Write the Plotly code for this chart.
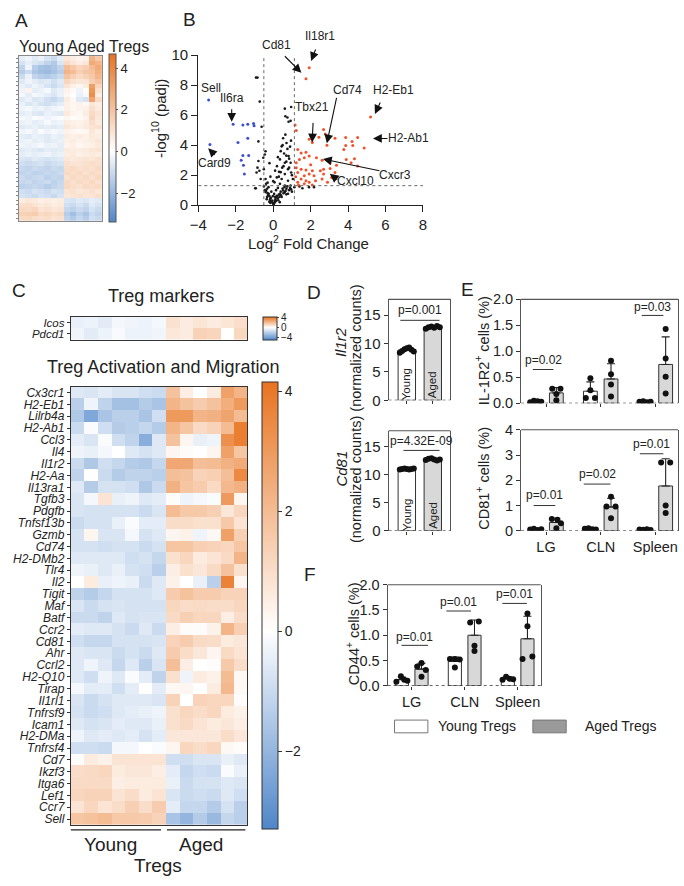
import numpy as np
import plotly.graph_objects as go

W, H = 684, 886
FONT = "Liberation Sans, Arial, Helvetica, sans-serif"
INK = "#222222"


def PX(x):
    return x / W


def PY(y):
    return 1 - y / H


# ============================ DATA ============================
# Panel A: DEG heatmap (z-scores), columns = 7 young + 6 aged Treg samples
heat_a_rows = [
    [-0.5, -0.3, -0.6, -0.4, -0.8, -1.0, -0.5, 0.8, 0.6, 0.4, 0.5, 2.5, 1.8],
    [-0.8, -0.5, -0.7, -0.9, -1.2, -1.5, -0.7, 1.2, 0.9, 0.6, 0.8, 2.8, 2.5],
    [-1.2, -0.3, -1.4, -1.7, -1.8, -1.6, -1.2, 2.2, 1.8, 1.4, 1.6, 2.2, 2.8],
    [-1.4, -1.0, -1.6, -1.8, -1.9, -1.7, -1.4, 2.5, 2.2, 1.6, 1.9, 2.0, 2.6],
    [-1.0, -0.4, -1.2, -1.4, -1.5, -1.3, -1.0, 2.0, 1.6, 1.2, 1.5, 1.8, 2.4],
    [-0.6, -0.3, -0.5, -0.7, -0.6, -0.9, -0.6, 1.4, 1.0, 0.8, 0.9, 1.6, 2.0],
    [-0.4, -0.6, -0.3, -0.5, -0.8, -1.0, -0.7, 0.9, 0.5, 0.3, 0.6, 3.2, 1.4],
    [-0.3, 0.4, -0.5, -0.4, -0.2, -0.6, -0.4, 0.4, 0.2, -0.3, 0.1, 3.5, 1.0],
    [-0.2, -0.5, -0.2, -0.3, -0.5, -0.7, -0.4, 0.3, 0.0, -0.4, -0.2, 3.8, 0.6],
    [-0.6, -0.4, -0.7, -0.6, -0.9, -1.1, -0.8, 0.6, 0.2, -0.6, -0.8, 3.0, 1.2],
    [-0.4, -0.7, -0.5, -0.8, -0.9, -0.7, -0.5, 0.5, 0.3, 0.4, 0.2, 0.8, 0.6],
    [-0.3, -0.2, -0.4, -0.3, -0.5, -0.3, -0.2, 0.5, 0.3, 0.4, 0.5, 1.0, 0.7],
    [-0.5, -0.4, -0.6, -0.7, -0.4, -0.5, -0.6, 0.7, 0.4, 0.3, 0.6, 1.2, 0.9],
    [-0.2, -0.3, -0.1, -0.2, -0.3, -0.2, -0.1, 0.3, 0.1, 0.2, 0.4, 1.4, 0.8],
    [-0.4, -0.3, -0.5, -0.4, -0.2, -0.4, -0.3, 0.6, 0.5, 0.4, 0.6, 1.1, 0.7],
    [-0.6, -0.5, -0.4, -0.6, -0.5, -0.6, -0.5, 0.8, 0.6, 0.5, 0.7, 0.9, 1.0],
    [-0.3, -0.2, -0.4, -0.1, -0.3, -0.2, -0.3, 0.4, 0.3, 0.2, 0.3, 0.8, 0.5],
    [-0.5, -0.6, -0.4, -0.5, -0.6, -0.4, -0.5, 0.6, 0.5, 0.6, 0.5, 0.7, 0.6],
    [-0.4, -0.3, -0.5, -0.4, -0.6, -0.5, -0.4, 0.5, 0.6, 0.4, 0.5, 0.6, 0.8],
    [-0.3, -0.4, -0.3, -0.2, -0.4, -0.3, -0.5, 0.4, 0.5, 0.3, 0.4, 0.5, 0.7],
    [-0.6, -0.5, -0.6, -0.7, -0.5, -0.6, -0.5, 0.7, 0.6, 0.6, 0.7, 0.8, 0.9],
    [-0.5, -0.4, -0.5, -0.4, -0.3, -0.5, -0.4, 0.6, 0.7, 0.5, 0.6, 0.7, 0.6],
    [-0.7, -0.8, -0.6, -0.7, -0.8, -0.7, -0.6, 0.8, 0.7, 0.8, 0.9, 0.8, 1.0],
    [-0.9, -1.0, -0.9, -0.8, -1.0, -0.9, -0.8, 1.0, 0.9, 0.9, 1.0, 1.1, 1.0],
    [-1.1, -1.2, -1.0, -1.1, -1.2, -1.0, -1.1, 1.1, 1.2, 1.0, 1.1, 1.0, 1.2],
    [-1.2, -1.1, -1.3, -1.2, -1.1, -1.2, -1.0, 1.2, 1.1, 1.2, 1.0, 1.2, 1.1],
    [-1.0, -1.2, -1.1, -1.0, -1.3, -1.1, -1.2, 1.0, 1.2, 1.1, 1.2, 1.0, 1.3],
    [-1.1, -1.0, -1.2, -1.1, -1.0, -1.3, -1.1, 1.2, 1.0, 1.2, 1.1, 1.3, 1.0],
    [-1.3, -1.2, -1.1, -1.2, -1.4, -1.2, -1.0, 1.3, 1.1, 1.0, 1.2, 1.1, 1.2],
    [-0.9, -1.0, -0.8, -0.9, -1.0, -0.8, -0.9, 0.9, 1.0, 0.8, 0.9, 1.0, 0.8],
    [-0.8, -0.9, -1.0, -0.8, -0.9, -1.1, -0.8, 0.8, 0.9, 1.0, 0.8, 0.9, 1.1],
    [0.6, 0.8, 0.7, 0.5, 0.6, 0.5, 0.6, -0.7, -0.8, -0.6, -0.7, -0.5, -0.6],
    [1.0, 1.1, 0.9, 0.7, 0.8, 0.6, 0.7, -0.9, -1.0, -0.8, -1.0, -0.6, -0.8],
    [1.3, 1.2, 1.4, 0.9, 1.0, 0.8, 0.9, -1.1, -1.3, -1.0, -1.2, -0.8, -1.0],
    [1.5, 1.6, 1.7, 1.2, 1.3, 1.1, 1.2, -1.4, -1.8, -1.3, -1.6, -1.0, -1.2],
    [1.2, 1.3, 1.1, 1.0, 1.1, 0.9, 1.0, -1.2, -1.5, -1.1, -1.4, -0.9, -1.0],
]

# Panel B: volcano plot
down_lfc = [-3.45, -3.38, -2.14, -1.62, -1.36, -1.05, -1.02, -1.88, -1.36, -1.62, -1.31, -1.71, -1.59, -1.54]
down_padj = [7.0, 4.05, 5.4, 5.34, 5.4, 5.44, 5.29, 4.18, 4.46, 3.31, 3.31, 3.0, 2.66, 2.07]
up_lfc = [1.75, 1.92, 5.2, 1.17, 1.23, 2.69, 2.78, 2.09, 1.92, 2.87, 2.44, 3.30, 3.87, 4.51, 4.21,
          3.87, 4.25, 4.86, 3.77, 1.31, 1.49, 1.75, 1.92, 1.66, 1.40, 1.23, 2.31, 2.61, 3.04, 3.38,
          3.90, 4.16, 4.34, 4.51, 3.04, 2.69, 2.52, 2.09, 1.75, 1.49, 1.23, 1.31, 1.66, 1.92, 2.18,
          2.69, 3.12, 3.30, 2.90, 1.49, 1.75, 1.92, 1.31, 1.66, 2.09, 2.26, 2.61, 1.20, 1.35, 2.00]
up_padj = [8.43, 9.15, 5.88, 5.34, 4.97, 5.05, 4.75, 4.18, 4.40, 4.00, 4.53, 4.46, 4.51, 4.51, 4.25,
           3.97, 3.97, 3.81, 3.71, 3.71, 3.48, 3.53, 3.27, 3.16, 3.05, 2.83, 3.16, 3.00, 2.83, 2.66,
           3.05, 2.83, 3.09, 2.61, 2.44, 2.40, 2.29, 2.29, 2.35, 2.40, 2.50, 2.18, 1.96, 2.07, 1.96,
           2.07, 1.85, 2.18, 1.52, 1.74, 1.63, 1.52, 1.52, 1.42, 1.35, 1.63, 1.74, 1.90, 1.35, 2.70]
ns_lfc = [-0.92, -0.84, -0.72, -0.62, -0.79, -0.41, -0.45, -0.53, -0.79, -0.84, -0.89, -0.93, -0.67,
          -0.50, -0.41, -0.38, 0.62, 0.65, 0.93, 0.96, 0.76, 0.82, 0.53, 0.71, 0.45, 0.76, 0.58, 0.82,
          0.36, 0.62, 0.93, 0.48, 0.79, 0.31, 0.62, 0.96, 0.19, 0.45, 0.79, 1.05, 0.07, 0.36, 0.62,
          0.93, -0.33, -0.41, -0.24, -0.33, -0.15, -0.10, -0.21, -0.04, 0.19, 0.36, 0.53, 0.71, 0.96,
          0.79, 0.45, 0.27, 0.10, 0.62, 1.13, -0.96, 1.56, 1.91, 2.18, 1.40, -0.74,
          -0.50, -0.45, -0.38, -0.30, -0.28, -0.20, -0.18, -0.12, -0.06, 0.00, 0.02, 0.05, 0.08, 0.12,
          0.15, 0.20, 0.24, 0.30, 0.33, 0.40, 0.42, 0.50, 0.55, 0.60, 0.66, 0.70, 0.75, 0.85, 0.90,
          1.00, -0.25, -0.10, 0.05, 0.15, 0.25, -0.35, 0.35, -0.02, 0.10, -0.15,
          -0.30, -0.15, 0.00, 0.10, 0.20, 0.30, 0.40, 0.55, 0.70, 0.85, 0.25, 0.40, 0.50, 0.70, 0.90,
          0.65, 0.95, 0.85, 1.00, -0.20]
ns_padj = [8.5, 8.5, 6.9, 5.23, 4.25, 3.59, 3.38, 3.16, 2.94, 2.5, 2.18, 1.13, 1.74,
           2.4, 1.74, 1.42, 6.43, 5.93, 5.62, 6.54, 5.84, 5.56, 4.46, 4.14, 3.92, 3.75, 3.44, 3.27,
           3.05, 2.83, 2.83, 2.5, 2.4, 2.22, 2.07, 2.18, 1.85, 1.74, 1.63, 1.74, 1.52, 1.42, 1.31,
           1.31, 1.09, 0.87, 0.76, 0.54, 0.44, 0.26, 0.22, 0.17, 0.54, 0.76, 0.98, 1.09, 1.05,
           0.76, 0.54, 0.33, 0.22, 0.87, 1.2, 1.13, 1.13, 1.2, 1.2, 1.25, 2.29,
           1.25, 1.0, 0.95, 0.8, 0.65, 0.6, 0.35, 0.48, 0.3, 0.1, 0.05, 0.12, 0.3, 0.4,
           0.28, 0.62, 0.45, 0.7, 0.55, 0.9, 0.65, 1.1, 0.8, 1.2, 0.95, 0.72, 1.25, 1.0, 1.15,
           0.9, 1.2, 0.9, 0.75, 1.0, 1.15, 0.4, 0.2, 0.6, 0.55, 0.15,
           1.5, 1.9, 1.6, 2.3, 2.6, 1.9, 2.2, 2.6, 2.9, 2.5, 3.2, 3.6, 4.0, 3.3, 3.9,
           4.7, 4.3, 3.1, 2.0, 2.8]
lfc_cutoffs = [-0.5, 1.13]
padj_cutoff = 1.3

# Panel C
marker_genes = ["Icos", "Pdcd1"]
marker_z = [
    [-0.6, -0.5, -0.8, -0.3, -0.4, -0.5, -0.3, 0.9, 0.6, 0.8, 0.6, 0.8, 1.0],
    [-0.4, -0.8, -0.5, -0.2, -0.5, -0.5, -0.4, 0.7, 0.6, 1.4, 1.3, 0.0, 1.2],
]
act_genes = ["Cx3cr1", "H2-Eb1", "Lilrb4a", "H2-Ab1", "Ccl3", "Il4", "Il1r2", "H2-Aa", "Il13ra1",
             "Tgfb3", "Pdgfb", "Tnfsf13b", "Gzmb", "Cd74", "H2-DMb2", "Tlr4", "Il2", "Tigit", "Maf",
             "Batf", "Ccr2", "Cd81", "Ahr", "Ccrl2", "H2-Q10", "Tirap", "Il1rl1", "Tnfrsf9", "Icam1",
             "H2-DMa", "Tnfrsf4", "Cd7", "Ikzf3", "Itga6", "Lef1", "Ccr7", "Sell"]
act_z = [
    [-0.6, -0.7, -0.5, -0.7, -0.7, -0.9, -1.0, 1.8, 0.5, 0.0, 0.6, 2.8, 2.2],
    [-1.3, -0.3, -1.2, -1.7, -1.7, -1.4, -1.6, 2.2, 1.8, 1.5, 1.8, 2.4, 3.0],
    [-1.5, -2.4, -1.6, -1.3, -1.3, -1.6, -0.9, 3.0, 3.0, 2.2, 2.3, 2.7, 2.0],
    [-1.0, -0.1, -0.9, -1.4, -1.3, -1.1, -1.4, 2.2, 1.7, 1.1, 1.3, 2.0, 3.8],
    [-0.5, -0.7, -0.1, -0.9, -1.2, -2.2, -0.6, 1.8, 0.3, -0.4, -0.3, 3.3, 3.8],
    [-0.3, -0.4, -0.2, 0.0, -0.6, -0.8, -0.6, 0.3, 0.1, 0.0, 0.3, 2.8, 1.7],
    [-1.0, -1.5, -0.9, -1.1, -1.4, -1.5, -1.1, 2.6, 2.6, 1.9, 2.0, 2.3, 2.5],
    [-1.2, 0.0, -1.0, -1.4, -1.2, -1.2, -1.3, 1.9, 1.8, 1.3, 1.4, 1.9, 3.5],
    [-0.6, -1.4, -0.8, -0.8, -0.9, -1.5, -1.0, 2.3, 1.7, 1.5, 1.1, 2.1, 2.3],
    [-0.7, -0.2, 0.8, -0.4, -0.3, -0.6, -0.5, 0.1, -0.3, -0.2, -0.1, 3.0, 0.3],
    [-0.7, -0.8, -0.8, -0.8, -0.8, -1.0, -0.7, 2.0, 1.6, 1.6, 1.4, 0.7, 1.2],
    [-1.0, -0.8, -0.8, -0.4, -0.1, -0.5, -0.5, 1.0, 1.0, 0.9, 0.9, 1.6, 0.8],
    [-0.8, 0.3, -0.7, -0.7, -0.2, -0.8, -0.6, 0.3, 0.4, -0.3, 0.2, 2.8, 1.4],
    [-0.8, -0.8, -0.9, -0.8, -0.8, -1.0, -0.8, 1.7, 1.7, 1.4, 1.3, 1.2, 1.7],
    [-0.6, -0.6, -0.6, -0.6, -0.9, -0.8, -1.1, 0.9, 1.2, 0.6, 0.8, 1.1, 2.2],
    [-0.3, -0.4, -0.6, -0.4, -0.8, -0.9, -1.3, 0.5, 0.9, 0.7, 1.1, 1.8, 0.9],
    [0.0, 0.6, -0.4, -0.3, -0.4, -1.0, -0.6, 0.4, 0.0, -0.4, -1.3, 3.7, 0.3],
    [-1.2, -1.4, -1.1, -0.8, -0.8, -0.8, -0.6, 1.5, 1.8, 1.5, 1.5, 1.3, 1.3],
    [-0.7, -1.0, -0.8, -0.7, -0.8, -0.8, -0.8, 1.2, 1.0, 1.1, 1.0, 1.0, 1.2],
    [-1.0, -1.0, -1.2, -0.6, -0.8, -0.7, -0.7, 1.1, 1.4, 1.2, 1.2, 0.5, 1.0],
    [-0.5, -0.6, -0.6, -0.8, -1.0, -0.6, -1.0, 0.5, 0.1, 0.1, 0.4, 2.2, 1.4],
    [-0.9, -1.1, -1.1, -0.8, -0.8, -0.8, -0.7, 1.3, 1.5, 1.1, 1.0, 0.6, 0.7],
    [-0.6, -0.7, -0.7, -1.0, -0.8, -1.0, -0.6, 1.5, 1.0, 0.7, 0.3, 1.1, 0.8],
    [-0.6, -0.3, -0.6, -1.1, -0.6, -1.3, -0.7, 1.9, 0.5, 0.0, 0.1, 1.6, 1.0],
    [-0.6, -0.9, -0.3, -0.6, -0.1, -0.5, -1.2, 0.9, -0.3, 0.6, 0.4, 2.0, 0.2],
    [-0.2, -0.5, -0.5, -0.9, -0.5, 0.0, -0.5, 0.2, 0.3, 0.0, 0.6, 2.1, 0.2],
    [-0.7, -1.0, -0.8, -0.6, -0.6, -0.6, -0.7, 1.3, 0.0, 1.3, 1.2, 1.2, 0.1],
    [-0.8, -1.0, -0.9, -0.6, -0.5, -0.4, -0.3, 0.9, 1.2, 1.0, 1.2, 0.6, 0.4],
    [-0.6, -0.8, -0.7, -0.5, -0.6, -0.6, -0.4, 0.9, 1.1, 0.8, 0.6, 0.7, 0.5],
    [-0.3, -0.6, -0.5, -0.6, -0.5, -0.8, -0.5, 0.7, 0.7, 0.7, 0.7, 1.0, 0.7],
    [-0.9, -0.9, -1.0, -0.2, -0.2, 0.0, -0.1, 0.3, 1.2, 1.0, 1.2, 0.2, 0.1],
    [0.1, 0.6, 0.4, 0.8, 0.8, 0.8, 0.8, -0.9, -0.9, -0.7, -0.7, -0.4, -0.6],
    [1.0, 1.1, 1.2, 0.6, 0.7, 0.7, 0.5, -0.5, -1.1, -0.9, -1.0, -0.1, -0.4],
    [1.1, 1.1, 1.1, 0.5, 0.6, 0.6, 0.6, -0.4, -1.0, -0.8, -0.8, -0.6, -0.7],
    [1.2, 1.3, 1.3, 0.8, 1.0, 0.6, 0.8, -0.7, -1.0, -0.9, -1.0, -0.6, -0.9],
    [0.8, 1.2, 0.8, 1.0, 1.4, 1.0, 1.5, -0.5, -1.1, -1.1, -1.4, -0.8, -1.3],
    [1.7, 1.8, 2.0, 1.6, 1.6, 1.5, 1.3, -1.6, -2.0, -1.4, -1.9, -1.1, -1.3],
]

# Panel D (normalized counts)
d_groups = ["Young", "Aged"]
d_il1r2_young = [8.4, 8.7, 9.0, 9.2, 9.3, 8.9, 8.6]
d_il1r2_aged = [12.6, 12.9, 13.0, 12.8, 13.1, 12.9]
d_cd81_young = [10.9, 11.0, 11.1, 11.0, 10.9, 11.0, 11.1]
d_cd81_aged = [12.6, 12.8, 12.9, 12.7, 12.5, 12.7]
d_pvals = ["p=0.001", "p=4.32E-09"]

# Panels E, F (% of cells)
tissues = ["LG", "CLN", "Spleen"]
e_il1r2_young = [[0.02, 0.05, 0.04, 0.03], [0.48, 0.25, 0.10, 0.10], [0.03, 0.04, 0.02, 0.03]]
e_il1r2_aged = [[0.28, 0.28, 0.18, 0.06], [0.82, 0.56, 0.36, 0.13], [1.43, 0.86, 0.51, 0.19]]
e_il1r2_p = ["p=0.02", "", "p=0.03"]
e_cd81_young = [[0.05, 0.08, 0.03, 0.06], [0.08, 0.10, 0.06, 0.05], [0.05, 0.04, 0.06, 0.03]]
e_cd81_aged = [[0.47, 0.44, 0.30, 0.10], [1.35, 0.96, 0.96, 0.50], [2.70, 2.70, 1.00, 0.70]]
e_cd81_p = ["p=0.01", "p=0.02", "p=0.01"]
f_cd44_young = [[0.08, 0.19, 0.12, 0.10], [0.53, 0.53, 0.52, 0.36], [0.12, 0.18, 0.14, 0.13]]
f_cd44_aged = [[0.38, 0.45, 0.31, 0.18], [1.25, 1.27, 0.79, 0.69], [1.43, 1.18, 0.53, 0.58]]
f_cd44_p = ["p=0.01", "p=0.01", "p=0.01"]

# ============================ LAYOUT CONSTANTS ============================
ROW4 = [-0.27, -0.09, 0.09, 0.27]
e_il1r2_young_off = [ROW4, [0.0, 0.0, -0.22, 0.22], ROW4]
e_il1r2_aged_off = [[-0.2, 0.2, 0.0, 0.0], [0, 0, 0, 0], [0, 0, 0, 0]]
e_cd81_young_off = [ROW4, ROW4, ROW4]
e_cd81_aged_off = [[-0.22, 0.05, 0.22, 0.0], [0.0, -0.22, 0.22, 0.0], [-0.22, 0.22, 0.0, 0.0]]
f_cd44_young_off = [[-0.28, -0.05, 0.12, 0.28], [-0.25, 0.0, 0.25, 0.0], ROW4]
f_cd44_aged_off = [[-0.22, 0.0, 0.22, 0.0], [-0.22, 0.22, 0.0, 0.0], [0.0, 0.0, -0.25, 0.25]]
E_POS = [0.0, 2.65, 5.3]
F_POS = [0.0, 2.7, 5.4]
BAR_W = 0.67
YOUNG_FILL = "#ffffff"
AGED_FILL = "#d8d8d8"
FRAME = "#555555"

BLUE = "#4f86c9"
ORANGE = "#e8731f"


def cscale(zmin, zmax):
    f0 = (0 - zmin) / (zmax - zmin)
    return [[0, BLUE], [f0, "#ffffff"], [1, ORANGE]]


fig = go.Figure()
annotations = []
shapes = []


def text(x, y, s, size=13, angle=0, xanchor="center", yanchor="middle", color=INK):
    annotations.append(dict(x=PX(x), y=PY(y), xref="paper", yref="paper", text=s, showarrow=False,
                            font=dict(size=size, color=color, family=FONT), textangle=angle,
                            xanchor=xanchor, yanchor=yanchor))


# ---------------- Panel A ----------------
A_ZMIN, A_ZMAX = -3.4, 4.65
nA = len(heat_a_rows)
fig.add_trace(go.Heatmap(
    z=heat_a_rows, x=list(range(13)), y=list(range(nA)), xaxis="x", yaxis="y",
    colorscale=cscale(A_ZMIN, A_ZMAX), zmin=A_ZMIN, zmax=A_ZMAX, hoverinfo="skip",
    colorbar=dict(x=PX(102), xanchor="left", xpad=0, y=PY(132), yanchor="middle", ypad=0,
                  lenmode="pixels", len=168, thicknessmode="pixels", thickness=7,
                  outlinewidth=1, outlinecolor="#555", tickvals=[-2, 0, 2, 4], ticks="outside",
                  ticklen=2, tickcolor="#555", tickfont=dict(size=13, color=INK, family=FONT))))

# ---------------- Panel B ----------------
fig.add_trace(go.Scatter(x=ns_lfc, y=ns_padj, mode="markers", xaxis="x2", yaxis="y2",
                         marker=dict(size=2.6, color="#1a1a1a"), hoverinfo="skip"))
fig.add_trace(go.Scatter(x=down_lfc, y=down_padj, mode="markers", xaxis="x2", yaxis="y2",
                         marker=dict(size=3, color="#3d4fd1"), hoverinfo="skip"))
fig.add_trace(go.Scatter(x=up_lfc, y=up_padj, mode="markers", xaxis="x2", yaxis="y2",
                         marker=dict(size=3, color="#f2522b"), hoverinfo="skip"))
for c in lfc_cutoffs:
    shapes.append(dict(type="line", xref="x2", yref="y2", x0=c, x1=c, y0=0, y1=10,
                       line=dict(color="#666", width=1, dash="dot")))
shapes.append(dict(type="line", xref="x2", yref="y2", x0=-4, x1=8, y0=padj_cutoff, y1=padj_cutoff,
                   line=dict(color="#666", width=1, dash="dot")))


def bx(p):
    return -4 + (p - 193) / 19.08


def by(p):
    return (200 - p) / 15.3


# arrows: (head px, tail offset)
arrows = [((298, 65), (-18, -18)), ((308, 53), (5, -13)), ((227, 115), (0, -14)),
          ((203, 142), (8, 8)), ((309, 136), (1, -21)), ((324, 137), (10, -47)),
          ((373, 107), (6, -13)), ((371, 132), (16, 0)), ((320, 153), (58, 12)),
          ((327, 168), (9, 7))]
for (hx, hy), (ax, ay) in arrows:
    annotations.append(dict(x=bx(hx), y=by(hy), xref="x2", yref="y2", text="", showarrow=True,
                            ax=ax, ay=ay, arrowhead=2, arrowsize=1.6, arrowwidth=1.1,
                            arrowcolor="#111", standoff=0))
label_pos = [(273, 37), (317, 28), (206, 81), (227, 91), (209, 157), (309, 100), (345, 83),
             (392, 83), (407, 132), (393, 169), (353, 175)]
label_names = ["Cd81", "Il18r1", "Sell", "Il6ra", "Card9", "Tbx21", "Cd74", "H2-Eb1", "H2-Ab1",
               "Cxcr3", "Cxcl10"]
for (lx, ly), nm in zip(label_pos, label_names):
    text(lx, ly, nm, size=12)

# ---------------- Panel C ----------------
M_ZMIN, M_ZMAX = -5.0, 4.3
fig.add_trace(go.Heatmap(
    z=marker_z, x=list(range(13)), y=marker_genes, xaxis="x3", yaxis="y3",
    colorscale=cscale(M_ZMIN, M_ZMAX), zmin=M_ZMIN, zmax=M_ZMAX, hoverinfo="skip",
    colorbar=dict(x=PX(259), xanchor="left", xpad=0, y=PY(325.5), yanchor="middle", ypad=0,
                  lenmode="pixels", len=23, thicknessmode="pixels", thickness=14,
                  outlinewidth=1, outlinecolor="#333", tickvals=[-4, 0, 4], ticks="outside",
                  ticklen=2, tickfont=dict(size=10, color=INK, family=FONT))))
C_ZMIN, C_ZMAX = -3.3, 4.15
fig.add_trace(go.Heatmap(
    z=act_z, x=list(range(13)), y=act_genes, xaxis="x4", yaxis="y4",
    colorscale=cscale(C_ZMIN, C_ZMAX), zmin=C_ZMIN, zmax=C_ZMAX, hoverinfo="skip",
    colorbar=dict(x=PX(258), xanchor="left", xpad=0, y=PY(608.5), yanchor="middle", ypad=0,
                  lenmode="pixels", len=447, thicknessmode="pixels", thickness=16,
                  outlinewidth=1, outlinecolor="#333", tickvals=[-2, 0, 2, 4], ticks="outside",
                  ticklen=4, tickcolor="#333", tickfont=dict(size=14, color=INK, family=FONT))))


# ---------------- bar panels ----------------
def add_bars(xa, ya, pos, young, aged, young_off, aged_off, dot=6):
    ypos = list(pos)
    apos = [p + 1 for p in pos]
    ym = [float(np.mean(v)) for v in young]
    am = [float(np.mean(v)) for v in aged]
    ysd = [float(np.std(v, ddof=1)) for v in young]
    asd = [float(np.std(v, ddof=1)) for v in aged]
    for xs, ms, sds, fill in ((ypos, ym, ysd, YOUNG_FILL), (apos, am, asd, AGED_FILL)):
        fig.add_trace(go.Bar(x=xs, y=ms, width=BAR_W, xaxis=xa, yaxis=ya, hoverinfo="skip",
                             marker=dict(color=fill, line=dict(color="#333", width=1)),
                             error_y=dict(type="data", symmetric=False, array=sds,
                                          arrayminus=[0] * len(sds), color="#222",
                                          thickness=1.1, width=4)))
    for xs, vals, offs in ((ypos, young, young_off), (apos, aged, aged_off)):
        px_, py_ = [], []
        for x0, vv, oo in zip(xs, vals, offs):
            for v, o in zip(vv, oo):
                px_.append(x0 + o)
                py_.append(v)
        fig.add_trace(go.Scatter(x=px_, y=py_, mode="markers", xaxis=xa, yaxis=ya, hoverinfo="skip",
                                 marker=dict(size=dot, color="#111")))


def frame(xa, ya):
    shapes.append(dict(type="line", xref=f"{xa} domain", yref=f"{ya} domain", x0=0, x1=1, y0=1, y1=1,
                       line=dict(color=FRAME, width=1.2)))
    shapes.append(dict(type="line", xref=f"{xa} domain", yref=ya, x0=0, x1=1, y0=0, y1=0,
                       line=dict(color="#333", width=1.3, dash="dot")))


def pval(xa, ya, x0, x1, yl, yt, s):
    if not s:
        return
    shapes.append(dict(type="line", xref=xa, yref=ya, x0=x0, x1=x1, y0=yl, y1=yl,
                       line=dict(color="#333", width=1)))
    annotations.append(dict(x=(x0 + x1) / 2, y=yt, xref=xa, yref=ya, text=s, showarrow=False,
                            font=dict(size=12, color=INK, family=FONT)))


# Panel D
d_off_y = list(np.linspace(-0.27, 0.27, len(d_il1r2_young)))
d_off_a = list(np.linspace(-0.27, 0.27, len(d_il1r2_aged)))
add_bars("x5", "y5", [0.0], [d_il1r2_young], [d_il1r2_aged], [d_off_y], [d_off_a], dot=6)
add_bars("x6", "y6", [0.0], [d_cd81_young], [d_cd81_aged], [d_off_y], [d_off_a], dot=6)
frame("x5", "y5")
frame("x6", "y6")
pval("x5", "y5", -0.25, 1.26, 14.1, 15.9, d_pvals[0])
pval("x6", "y6", -0.13, 1.26, 14.3, 15.9, d_pvals[1])
for ya in ("y5", "y6"):
    for i, g in enumerate(d_groups):
        annotations.append(dict(x=i, y=2.8, xref=ya.replace("y", "x"), yref=ya, text=g,
                                showarrow=False, textangle=-90,
                                font=dict(size=11.5, color=INK, family=FONT)))

# Panel E
add_bars("x7", "y7", E_POS, e_il1r2_young, e_il1r2_aged, e_il1r2_young_off, e_il1r2_aged_off)
add_bars("x8", "y8", E_POS, e_cd81_young, e_cd81_aged, e_cd81_young_off, e_cd81_aged_off)
frame("x7", "y7")
frame("x8", "y8")
pval("x7", "y7", -0.14, 0.86, 0.65, 0.84, e_il1r2_p[0])
pval("x7", "y7", 5.14, 6.19, 1.69, 1.85, e_il1r2_p[2])
pval("x8", "y8", -0.1, 0.95, 1.0, 1.42, e_cd81_p[0])
pval("x8", "y8", 2.33, 3.62, 1.85, 2.25, e_cd81_p[1])
pval("x8", "y8", 5.05, 6.19, 3.05, 3.45, e_cd81_p[2])

# Panel F
add_bars("x9", "y9", F_POS, f_cd44_young, f_cd44_aged, f_cd44_young_off, f_cd44_aged_off)
frame("x9", "y9")
pval("x9", "y9", -0.02, 1.33, 0.8, 0.97, f_cd44_p[0])
pval("x9", "y9", 2.27, 3.52, 1.48, 1.66, f_cd44_p[1])
pval("x9", "y9", 5.12, 6.37, 1.63, 1.81, f_cd44_p[2])

# ---------------- text ----------------
text(13, 12, "A", size=19)
text(184, 11, "B", size=19)
text(10, 287, "C", size=19)
text(311, 289, "D", size=19)
text(467, 286, "E", size=19)
text(307, 577, "F", size=19)

text(8, 38, "Young Aged Tregs", size=16, xanchor="left")
text(153, 112, "-log<sup>10</sup> (padj)", size=15, angle=-90)
text(305, 238, "Log<sup>2</sup> Fold Change", size=15)

text(155, 293, "Treg markers", size=18)
text(157, 365, "Treg Activation and Migration", size=18)
shapes.append(dict(type="line", xref="paper", yref="paper", x0=PX(63), x1=PX(155), y0=PY(837),
                   y1=PY(837), line=dict(color="#222", width=1.3)))
shapes.append(dict(type="line", xref="paper", yref="paper", x0=PX(161), x1=PX(241), y0=PY(837),
                   y1=PY(837), line=dict(color="#222", width=1.3)))
text(103, 852, "Young", size=19)
text(196, 852, "Aged", size=19)
text(152, 873, "Tregs", size=19)

text(338, 340, "<i>Il1r2</i>", size=15, angle=-90)
text(354, 346, "(normalized counts)", size=14.5, angle=-90)
text(338, 469, "<i>Cd81</i>", size=15, angle=-90)
text(354, 480, "(normalized counts)", size=14.5, angle=-90)

text(483, 348, "IL-1R2<sup>+</sup> cells (%)", size=14.5, angle=-90)
text(483, 478, "CD81<sup>+</sup> cells (%)", size=14.5, angle=-90)
text(350, 637, "CD44<sup>+</sup> cells (%)", size=14.5, angle=-90)

# legend
shapes.append(dict(type="rect", xref="paper", yref="paper", x0=PX(393), x1=PX(427), y0=PY(738),
                   y1=PY(725), fillcolor="#ffffff", line=dict(color="#777", width=1)))
shapes.append(dict(type="rect", xref="paper", yref="paper", x0=PX(534), x1=PX(568), y0=PY(738),
                   y1=PY(725), fillcolor="#9a9a9a", line=dict(color="#777", width=1)))
text(435, 731, "Young Tregs", size=14, xanchor="left")
text(585, 731, "Aged Tregs", size=14, xanchor="left")

# ---------------- axes ----------------
tickf = dict(family=FONT, color=INK)


def hm_x(dom):
    return dict(domain=dom, range=[-0.5, 12.5], showticklabels=False, ticks="", showgrid=False,
                zeroline=False, showline=True, mirror=True, linecolor="#333", linewidth=1)


def bar_x(dom, ya, rng, tv, tt):
    return dict(domain=dom, anchor=ya, range=rng, tickvals=tv, ticktext=tt, ticks="outside",
                ticklen=3, tickcolor="#333", showline=False, showgrid=False, zeroline=False,
                tickfont=dict(size=14.5, **tickf))


def bar_y(dom, xa, rng, tv, tt, fs):
    return dict(domain=dom, anchor=xa, range=rng, tickvals=tv, ticktext=tt, ticks="outside",
                ticklen=4, tickcolor="#333", showline=True, mirror=True, linecolor=FRAME,
                linewidth=1.2, showgrid=False, zeroline=False, tickfont=dict(size=fs, **tickf))


E_TICKS = [p + 0.5 for p in E_POS]
F_TICKS = [p + 0.5 for p in F_POS]

fig.update_layout(
    width=W, height=886, margin=dict(l=0, r=0, t=0, b=0, pad=0),
    paper_bgcolor="white", plot_bgcolor="white", showlegend=False, barmode="overlay",
    font=dict(family=FONT, color=INK),
    xaxis=dict(hm_x([PX(10), PX(95)]), anchor="y", linecolor="#888"),
    yaxis=dict(domain=[PY(216), PY(48)], anchor="x", range=[nA - 0.5, -0.5], tickvals=list(range(nA)),
               showticklabels=False, ticks="outside", ticklen=2, tickcolor="#888", showgrid=False,
               zeroline=False, showline=True, mirror=True, linecolor="#888", linewidth=1),
    xaxis2=dict(domain=[PX(193), PX(422)], anchor="y2", range=[-4, 8], tickvals=list(range(-4, 9, 2)),
                ticks="outside", ticklen=6, tickwidth=1.4, tickcolor="#222", showline=True,
                linecolor="#222", linewidth=1.4, showgrid=False, zeroline=False,
                tickfont=dict(size=15, **tickf)),
    yaxis2=dict(domain=[PY(200), PY(47)], anchor="x2", range=[0, 10], tickvals=list(range(0, 11, 2)),
                ticks="outside", ticklen=6, tickwidth=1.4, tickcolor="#222", showline=True,
                linecolor="#222", linewidth=1.4, showgrid=False, zeroline=False,
                tickfont=dict(size=15, **tickf)),
    xaxis3=dict(hm_x([PX(63), PX(243)]), anchor="y3"),
    yaxis3=dict(domain=[PY(337), PY(314)], anchor="x3", autorange="reversed", tickvals=marker_genes,
                ticktext=[f"<i>{g}</i>" for g in marker_genes], ticks="outside", ticklen=3,
                tickcolor="#333", showgrid=False, zeroline=False, showline=True, mirror=True,
                linecolor="#333", linewidth=1, tickfont=dict(size=11.5, **tickf)),
    xaxis4=dict(hm_x([PX(63), PX(243)]), anchor="y4"),
    yaxis4=dict(domain=[PY(832), PY(385)], anchor="x4", autorange="reversed", tickvals=act_genes,
                ticktext=[f"<i>{g}</i>" for g in act_genes], ticks="outside", ticklen=3,
                tickcolor="#333", showgrid=False, zeroline=False, showline=True, mirror=True,
                linecolor="#333", linewidth=1, tickfont=dict(size=12, **tickf)),
    xaxis5=bar_x([PX(387), PX(450)], "y5", [-0.70, 1.68], [0, 1], ["", ""]),
    yaxis5=bar_y([PY(399), PY(296)], "x5", [0, 17.8], [0, 5, 10, 15], ["0", "5", "10", "15"], 15),
    xaxis6=bar_x([PX(387), PX(450)], "y6", [-0.70, 1.68], [0, 1], ["", ""]),
    yaxis6=bar_y([PY(532), PY(430)], "x6", [0, 17.8], [0, 5, 10, 15], ["0", "5", "10", "15"], 15),
    xaxis7=bar_x([PX(522), PX(682)], "y7", [-0.71, 6.9], E_TICKS, ["", "", ""]),
    yaxis7=bar_y([PY(402), PY(296)], "x7", [0, 2.0], [0, 0.5, 1, 1.5, 2],
                 ["0.0", "0.5", "1.0", "1.5", "2.0"], 14.5),
    xaxis8=bar_x([PX(522), PX(682)], "y8", [-0.71, 6.9], E_TICKS, tissues),
    yaxis8=bar_y([PY(532), PY(429)], "x8", [0, 4], [0, 1, 2, 3, 4], ["0", "1", "2", "3", "4"], 14.5),
    xaxis9=bar_x([PX(386), PX(542)], "y9", [-0.725, 7.075], F_TICKS, tissues),
    yaxis9=bar_y([PY(690), PY(587)], "x9", [0, 2.0], [0, 0.5, 1, 1.5, 2],
                 ["0.0", "0.5", "1.0", "1.5", "2.0"], 14.5),
    annotations=annotations,
    shapes=shapes,
)

fig.write_html("out.html", config={"displayModeBar": False},
               post_script="document.body.style.margin='0';document.body.style.padding='0';"
                           "document.documentElement.style.overflow='hidden';")
